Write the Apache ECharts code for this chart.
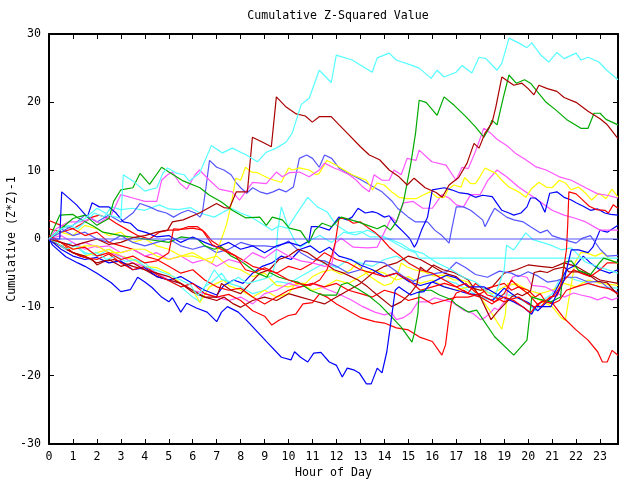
<!DOCTYPE html>
<html><head><meta charset="utf-8">
<script src="https://cdn.jsdelivr.net/npm/echarts@6/dist/echarts.min.js"></script>
<style>html,body{margin:0;padding:0;background:#fff}#c{width:640px;height:480px}</style>
</head><body><div id="c"></div>
<script>
// hour of day (x), cumulative (Z*Z)-1 (y)
const cyanTop = [[0,0],[0.5,1.5],[1,2],[1.5,3],[2,4.5],[2.5,3.5],[3,3],[3.1,9.4],[3.5,8.5],[4,7],[4.5,7.5],[4.75,9.6],[4.95,10.4],[5.35,9.6],[5.65,9.4],[5.85,8.5],[6.28,9.6],[6.78,13.7],[7.24,12.6],[7.65,13.3],[8.24,12.3],[8.7,11.3],[9.07,12.7],[9.49,13.3],[9.9,14.2],[10.15,15.5],[10.53,19.7],[10.86,20.6],[11.28,24.7],[11.78,22.9],[11.99,26.9],[12.65,26.2],[13.49,24.4],[13.7,26.5],[14.2,27.2],[14.49,26.2],[15.15,25.4],[15.45,25.0],[15.95,23.5],[16.2,24.7],[16.49,23.7],[16.99,24.4],[17.24,25.4],[17.65,24.3],[17.95,26.6],[18.24,26.4],[18.7,24.7],[18.9,25.7],[19.2,29.4],[19.6,28.7],[19.95,28.0],[20.15,28.7],[20.53,26.9],[20.86,25.9],[21.2,27.3],[21.5,26.4],[22,27.2],[22.2,26.2],[22.5,26.6],[22.95,25.9],[23.28,24.7],[23.75,23.3]];
const cyanMid = [[0,0],[0.4,1.2],[0.8,2],[1.2,1.5],[1.6,2.8],[1.9,3.8],[2.3,3.2],[2.6,4.7],[3.0,4.3],[3.5,4.5],[4.0,4.2],[4.6,5.0],[5.0,4.4],[5.4,4.3],[5.9,4.6],[6.3,3.8],[6.9,3.2],[7.3,4.0],[7.6,4.5],[8.0,3.8],[8.45,3.2],[8.9,2.2],[9.3,1.3],[9.6,1.9],[9.95,1.6],[10.3,3.5],[10.8,6.1],[11.2,4.7],[11.6,4.0],[12.0,2.0],[12.5,0.9],[13.0,1.1],[13.4,0.3],[14.0,0.3],[14.4,-0.5],[14.9,-1.5],[15.3,-2.0],[15.45,-2.8],[23.75,-2.8]];
const cyanLow = [[0,0],[0.3,-0.5],[0.7,-1.5],[1.1,-1],[1.5,-2.2],[2,-2],[2.4,-3],[2.8,-2.5],[3.2,-3.3],[3.6,-3],[4.0,-4],[4.5,-4.6],[5,-5.2],[5.5,-6],[5.9,-6.7],[6.2,-8.3],[6.5,-7],[6.9,-4.5],[7.2,-5.9],[7.6,-6.3],[7.9,-5.6],[8.3,-6.5],[8.6,-6.2],[9.0,-5.8],[9.3,-5.4],[9.45,-3.5],[9.55,1.3],[9.7,4.7],[10.0,1.5],[10.3,-0.5],[10.5,-1.2],[10.9,-0.2],[11.3,0.5],[11.8,-0.5],[12.3,1.0],[12.8,0.6],[13.3,1.3],[13.8,0.5],[14.3,-0.1],[14.7,-0.7],[15.1,-1.6],[15.6,-2.1],[16.2,-3.5],[16.8,-4.5],[17.3,-5.6],[17.8,-6.3],[18.3,-7.7],[18.6,-8.5],[19.0,-4.5],[19.1,-0.9],[19.4,-1.6],[19.9,0.9],[20.2,-0.1],[20.95,-0.9],[21.4,-1.6],[21.8,-1.3],[22.0,-2],[22.4,-3.4],[22.95,-4.1],[23.75,-5]];
const cyanDeep = [[0,0],[0.5,-1],[1,-0.5],[1.5,-2],[2,-2.5],[2.5,-1.5],[3,-2.5],[3.5,-3],[4,-3.5],[4.5,-5],[5,-6],[5.5,-7],[6,-8.5],[6.3,-9.2],[6.5,-7],[6.8,-6.3],[7.2,-5],[7.5,-6.5],[8,-7],[8.5,-8],[9,-7.5],[9.5,-6.2],[10,-6.5],[10.5,-5.5],[11,-4.5],[11.5,-3.5],[12,-4.2],[12.5,-3],[13,-3.5],[13.5,-4],[14,-3],[14.5,-2.5],[15,-3.5],[15.5,-4.5],[16,-5],[16.5,-6],[17,-6.5],[17.5,-7.5],[18,-8.5],[18.5,-9],[19,-8],[19.5,-8.5],[20,-9.5],[20.3,-10.5],[20.6,-9],[21,-8],[21.3,-6],[21.6,-5.5],[22,-6],[22.5,-6.5],[23,-7],[23.75,-7.2]];
const darkRedTop = [[0,0],[0.5,-0.5],[1,-1],[1.5,-0.5],[2,0],[2.5,-0.8],[3,-0.5],[3.5,0.2],[4,0.5],[4.5,1],[4.95,1.3],[5.15,2.5],[5.6,2.8],[6.28,3.8],[6.99,5.2],[7.3,4.6],[7.53,4.5],[7.82,6.9],[8.28,6.9],[8.49,14.9],[8.9,14.2],[9.28,13.5],[9.49,20.8],[9.9,19.3],[10.32,18.3],[10.7,18.0],[10.99,17.1],[11.28,17.9],[11.78,17.9],[12.11,16.7],[12.53,15.2],[13.0,13.5],[13.37,12.3],[13.8,11.6],[14.2,10.1],[14.61,9.1],[14.95,7.9],[15.24,8.9],[15.7,7.5],[16.16,6.8],[16.41,6.1],[16.7,7.9],[17.1,9.0],[17.45,11.1],[17.74,14.0],[17.95,13.3],[18.2,15.5],[18.49,17.0],[18.65,19.3],[18.9,23.7],[19.4,22.5],[19.74,22.8],[20.0,22.0],[20.24,21.1],[20.45,22.5],[20.8,22.0],[21.2,21.6],[21.5,20.7],[22,20.0],[22.5,18.7],[23.0,17.6],[23.28,16.8],[23.75,14.7]];
const darkRedMid = [[0,0],[0.5,-1],[1,-2],[1.5,-2.5],[2,-3.5],[2.5,-3],[3,-4],[3.5,-3.5],[4,-4.5],[4.5,-5],[5,-5.5],[5.5,-6.5],[6,-7.5],[6.5,-8.5],[7,-8.5],[7.2,-6.5],[7.6,-7.5],[8,-8],[8.4,-6.5],[8.8,-5],[9.2,-4.5],[9.6,-3],[10,-2.5],[10.4,-1.5],[10.8,-2],[11.2,-3],[11.5,-3.5],[11.9,-4.5],[12.3,-5],[12.9,-6],[13.3,-7],[13.7,-8.2],[14.3,-9.9],[14.7,-9.2],[15.1,-7.9],[15.35,-6.7],[15.5,-4.1],[15.75,-4.8],[16.05,-3.8],[16.45,-4.5],[16.9,-4.9],[17.3,-5.6],[17.5,-6],[18.0,-8.5],[18.45,-11.8],[18.7,-10.7],[19.0,-9.6],[19.3,-8.5],[19.55,-8.0],[19.75,-8.3],[20.1,-7.6],[20.25,-4.9],[20.5,-4.7],[20.8,-4.9],[21.1,-4.4],[21.5,-4.1],[21.7,-4.8],[22.2,-4.8],[22.6,-5.4],[22.9,-6.2],[23.3,-6.4],[23.75,-8.2]];
const darkRedLow = [[0,0],[0.7,-1.5],[1.3,-2.5],[1.8,-3],[2.0,-3.8],[2.3,-3.3],[2.7,-3],[3.1,-3.5],[3.5,-4],[4,-4.5],[4.5,-5.5],[5,-6],[5.5,-6.5],[6,-7.8],[6.5,-8.5],[7.0,-9],[7.3,-8.5],[7.7,-9.5],[8,-10],[8.5,-9],[9,-8.5],[9.5,-9],[10,-8],[10.5,-8.5],[11,-9],[11.5,-9.5],[12,-8.5],[12.5,-7.5],[13,-6.5],[13.5,-5],[14,-4],[14.5,-3.5],[15,-2.5],[15.5,-3],[16,-4],[16.5,-5],[17,-5.5],[17.5,-7],[18,-7.5],[18.5,-7],[19,-5],[19.5,-4.5],[20,-3.8],[20.5,-4.0],[21,-4.2],[21.5,-3.5],[22,-4],[22.5,-5],[23,-6],[23.75,-6.5]];
const greenTop = [[0,0],[0.5,1.5],[1,3],[1.5,3.5],[2,2],[2.5,3],[2.7,5.5],[3,7.2],[3.5,7.5],[3.8,9.6],[4.2,8],[4.7,10.5],[5.1,9.6],[5.6,8.5],[6.3,7.5],[6.7,6.4],[7.2,5.4],[7.65,4.2],[8.2,3.1],[8.8,3.2],[9.07,2.0],[9.32,3.2],[9.74,2.8],[10.03,1.6],[10.5,1.2],[10.85,-0.6],[11.1,1.3],[11.4,2.3],[11.8,1.8],[12.2,3.2],[12.6,2.8],[12.9,2.5],[13.3,2.0],[13.7,1.5],[14.0,2.0],[14.25,1.3],[14.5,2.5],[14.8,5.5],[15.1,11.0],[15.3,15.5],[15.45,20.3],[15.74,20.0],[16.2,18.1],[16.49,20.8],[16.9,19.6],[17.4,17.9],[17.8,16.4],[18.15,14.9],[18.37,16.2],[18.49,17.4],[18.7,16.7],[18.95,20.5],[19.2,24.0],[19.5,22.8],[19.85,23.3],[20.1,22.8],[20.4,21.5],[20.75,20.0],[21.15,18.9],[21.6,17.5],[22.2,16.2],[22.5,16.2],[22.75,18.4],[23.0,18.4],[23.25,17.5],[23.75,16.7]];
const greenLow = [[0,0],[0.45,3.5],[1,3.6],[1.2,3.1],[1.9,1.8],[2.25,1.0],[3,0.5],[4,0],[5,-0.5],[5.5,0.3],[6.2,0],[6.5,-1],[6.9,-1.5],[7.2,-1.2],[7.6,-2.5],[8.0,-3.2],[8.3,-4],[8.7,-5],[9.1,-5.6],[9.2,-4.9],[9.6,-5.6],[10.0,-6.0],[10.4,-6.3],[10.9,-7.5],[11.4,-8.2],[12.0,-8.2],[12.2,-6.7],[12.45,-6.4],[12.85,-7.2],[13.3,-8.2],[13.8,-9.6],[14.3,-11.4],[14.7,-12.9],[15.15,-15.1],[15.25,-13.8],[15.4,-10.8],[15.45,-7.7],[15.65,-7.5],[15.95,-7.5],[16.3,-8.2],[16.8,-8.9],[17.0,-9.6],[17.5,-10.7],[17.85,-10.4],[18.6,-14.3],[19.4,-17.0],[19.95,-14.8],[20.15,-8.5],[20.45,-8.8],[20.95,-9.2],[21.35,-8.5],[21.5,-3.4],[21.8,-3.2],[22.1,-4.6],[22.6,-5.2],[23.0,-3.4],[23.15,-2.8],[23.75,-3.5]];
const magentaTop = [[0,0],[0.3,1.5],[0.8,2.5],[1.3,2.5],[1.8,3],[2.1,2.3],[2.6,3.5],[3.0,6.5],[3.5,6],[4.0,5.5],[4.5,5.5],[4.7,8.6],[4.95,9.4],[5.15,9.8],[5.45,8.2],[5.75,7.3],[6.1,9.4],[6.28,10.1],[6.7,8.6],[7.1,7.3],[7.65,6.9],[7.95,5.7],[8.5,8.3],[9.07,8.1],[9.49,9.8],[9.74,9.1],[10.03,9.7],[10.45,9.8],[10.86,9.1],[11.28,10.1],[11.5,11.1],[11.9,10.4],[12.11,10.1],[12.53,9.4],[12.83,8.6],[13.1,7.6],[13.37,6.9],[13.57,9.4],[13.9,8.6],[14.2,8.6],[14.4,10.1],[14.7,9.4],[14.95,11.8],[15.32,11.5],[15.45,13.0],[15.98,11.3],[16.57,10.8],[16.99,8.6],[17.24,10.5],[17.5,10.3],[17.82,13],[18.15,16.2],[18.4,15.6],[18.7,14.6],[19.1,13.7],[19.45,12.6],[19.9,11.6],[20.3,10.6],[20.75,10.1],[21.3,9.1],[21.8,8.6],[22.4,7.5],[22.9,6.6],[23.3,6.4],[23.75,6.0]];
const magentaMid = [[0,0],[0.5,-0.5],[1,-1],[1.5,-0.5],[2,-1.2],[2.5,-1],[3,-2],[3.5,-1.5],[4,-2.5],[4.5,-2],[5,-3],[5.5,-2.5],[6,-3.5],[6.5,-3],[7,-4],[7.5,-3],[8,-3.5],[8.5,-2],[9,-2.8],[9.5,-1.5],[10,-2.5],[10.5,-3.2],[11,-3.5],[11.5,-4],[11.8,-3.8],[11.95,-0.6],[12.2,0.1],[12.7,-1.2],[13.3,-1.3],[13.7,-1.2],[13.9,0.3],[14.3,3.2],[14.5,2.5],[14.8,5.3],[15.2,5.5],[15.6,4.5],[16.0,4.5],[16.4,6.5],[16.7,6],[17.0,5],[17.3,4.7],[17.6,6.5],[18.0,6.5],[18.3,8.5],[18.7,10.1],[19.1,9.1],[19.6,7.6],[20.2,6.2],[20.6,5.2],[21.0,4.2],[21.5,3.5],[22.0,3.0],[22.4,2.5],[23.0,1.3],[23.75,1.3]];
const magentaLow = [[0,0],[0.5,0.5],[1,-0.5],[1.5,-1.5],[2,-1],[2.5,-2],[3,-2.5],[3.5,-3.5],[4,-4],[4.5,-5],[5,-6],[5.5,-6.5],[6,-7.5],[6.5,-8],[7,-8.5],[7.5,-9],[8,-8.5],[8.5,-9.5],[9,-8],[9.5,-7.5],[10,-6.5],[10.5,-7],[11,-6.5],[11.5,-7.2],[12.0,-7.9],[12.6,-8.9],[13.1,-9.9],[13.6,-10.7],[14.0,-11.1],[14.3,-10.8],[14.5,-11.8],[14.8,-11.5],[15.1,-10.8],[15.4,-9.2],[15.8,-9.2],[16.1,-8.6],[16.4,-8.9],[16.8,-9.2],[17.3,-10.4],[17.7,-10.9],[18.0,-11.8],[18.2,-11.5],[18.45,-10.7],[18.6,-10.1],[18.75,-10.4],[19.0,-9.2],[19.2,-7.0],[19.35,-5.6],[19.55,-5.3],[19.95,-5.6],[20.15,-6.8],[20.7,-7.0],[21.1,-7.7],[21.5,-8.5],[21.9,-7.9],[22.2,-8.2],[22.6,-8.5],[22.9,-8.9],[23.2,-8.5],[23.5,-8.9],[23.75,-8.6]];
const yellowTop = [[0,0],[0.5,-0.5],[1,-1.5],[1.5,-1],[2,-1],[2.5,-2],[3,-2],[3.5,-1.5],[4,-1.5],[4.5,-2.5],[5,-3],[5.5,-2.5],[6,-2.5],[6.5,-3],[6.8,-3.5],[7.0,-2],[7.2,0],[7.4,2],[7.6,5],[7.8,8.9],[8.0,8.6],[8.2,10.5],[8.45,9.8],[8.7,9.7],[9.1,9.0],[9.4,8.6],[9.7,8.3],[10.0,10.4],[10.15,10.1],[10.45,10.4],[10.86,10.1],[11.15,9.4],[11.28,9.6],[11.6,11.5],[11.99,10.8],[12.65,9.4],[13.25,8.6],[13.5,7.2],[13.7,8.2],[14.0,7.9],[14.3,6.9],[14.61,6.1],[14.95,5.9],[15.32,5.9],[15.6,6.4],[15.9,6.9],[16.2,6.1],[16.5,6.1],[16.65,7.2],[16.9,7.9],[17.2,7.6],[17.35,9.0],[17.6,8.1],[17.8,8.1],[17.95,8.9],[18.2,10.4],[18.65,9.6],[18.9,8.6],[19.2,7.6],[19.6,6.9],[19.9,6.1],[20.15,7.4],[20.45,8.3],[20.75,7.6],[21.0,7.5],[21.3,8.6],[21.55,8.2],[21.8,7.2],[22.1,7.6],[22.4,6.7],[22.65,5.7],[22.95,6.7],[23.25,5.9],[23.5,7.3],[23.75,6.1]];
const yellowLow = [[0,0],[0.5,-1],[1,-2],[1.5,-2.5],[2,-2],[2.5,-1.5],[3,-2.5],[3.5,-3],[4,-4],[4.5,-4.2],[5,-5],[5.5,-6.5],[6,-7.5],[6.3,-9.3],[6.7,-7],[7,-6.5],[7.3,-6],[7.5,-6.8],[8,-7.5],[8.5,-8.5],[9,-7.5],[9.5,-8.5],[10,-8],[10.3,-6.5],[10.7,-6.5],[11,-5.5],[11.4,-4.8],[11.8,-4.5],[12.2,-5.2],[12.6,-4.5],[12.85,-3.5],[13.1,-4.5],[13.4,-5.5],[13.7,-6.2],[14.0,-6.8],[14.3,-6.5],[14.55,-5.2],[14.7,-3.5],[14.95,-4.1],[15.25,-4.5],[15.65,-4.8],[16.05,-5.4],[16.5,-5.3],[16.9,-6.0],[17.2,-6.0],[17.5,-6.3],[18.0,-8.5],[18.5,-11],[18.9,-13.2],[19.05,-11],[19.15,-6.5],[19.45,-6.7],[19.75,-7.3],[20.1,-8.3],[20.4,-8.8],[21.0,-9.9],[21.4,-11.6],[21.55,-11.9],[21.75,-7.7],[21.95,-3.5],[22.2,-2.0],[22.4,-2.0],[22.8,-2.5],[23.1,-2.0],[23.5,-3.2],[23.75,-3.5]];
const yellowEarly = [[0,0],[0.5,1],[1,0.5],[1.5,2],[2,1.5],[2.5,0.5],[3,1],[3.5,-0.5],[4,0],[4.5,-1],[5,-1.5],[5.5,-2.5],[6,-2],[6.5,-3],[7,-2.5],[7.5,-4],[8,-4.5],[8.5,-5.5],[9,-5],[9.5,-6.8],[10,-7],[10.5,-6.5],[11,-7.5],[11.5,-7],[12,-6],[12.5,-6.5],[13,-5.5],[13.5,-4.5],[14,-5],[14.5,-6],[15,-5.5],[15.5,-6.5],[16,-6],[16.5,-7],[17,-7.5],[17.5,-7],[18,-7.5],[18.5,-8],[19,-7],[19.5,-6.5],[20,-7.5],[20.5,-8],[21,-7.5],[21.5,-6.5],[22,-7],[22.5,-6],[23,-6.5],[23.75,-6.8]];
const blueSpike = [[0,0],[0.45,0],[0.53,6.9],[1.15,5.0],[1.6,3.2],[1.8,5.3],[2.1,4.7],[2.5,4.7],[2.8,3.8],[3.1,2.5],[3.4,2.3],[3.7,1.3],[4.1,0.9],[4.5,0.3],[5,0.5],[5.5,-0.5],[6,0.3],[6.5,-0.5],[7,-1.2],[7.5,-0.5],[8,-1.5],[8.5,-1],[9,-2],[9.5,-1],[10,-0.5],[10.5,-1],[10.85,-0.3],[10.95,1.8],[11.28,1.8],[11.7,1.3],[12.1,3.2],[12.45,2.8],[12.65,3.2],[12.9,4.5],[13.2,3.8],[13.5,4.0],[13.7,3.8],[14.0,3.2],[14.2,3.4],[14.45,2.2],[14.8,1.0],[15.05,0.1],[15.25,-1.2],[15.35,-0.6],[15.55,1.3],[15.8,3.2],[16.0,7.2],[16.5,7.5],[16.8,7.2],[17.1,6.8],[17.5,6.6],[17.8,6.1],[18.1,6.4],[18.5,6.2],[18.9,4.2],[19.2,3.8],[19.4,3.5],[19.7,3.8],[19.95,4.7],[20.1,6.0],[20.3,6.0],[20.5,5.4],[20.7,3.9],[20.9,6.7],[21.2,6.9],[21.5,6.1],[21.8,5.7],[22,5.3],[22.3,4.8],[22.6,4.2],[22.9,4.4],[23.2,3.8],[23.45,3.6],[23.75,3.5]];
const blueDeep = [[0,0],[0.15,-0.9],[0.7,-2.6],[1.2,-3.5],[1.5,-4],[2.0,-5],[2.6,-6.4],[3.0,-7.7],[3.4,-7.4],[3.7,-5.6],[4.0,-6.3],[4.3,-7.1],[4.7,-8.5],[5.0,-9.2],[5.15,-8.6],[5.5,-10.7],[5.75,-9.4],[6.15,-10.1],[6.6,-10.7],[7.0,-12.1],[7.2,-10.7],[7.45,-9.9],[7.9,-10.7],[8.3,-12.1],[8.7,-13.6],[9.1,-15.1],[9.7,-17.3],[10.1,-17.7],[10.25,-16.5],[10.5,-17.3],[10.8,-18.0],[11.05,-16.7],[11.35,-16.6],[11.7,-18.0],[12.0,-18.5],[12.24,-20.2],[12.45,-18.9],[12.75,-19.2],[12.95,-19.6],[13.25,-21.2],[13.45,-21.2],[13.7,-18.9],[13.9,-19.6],[14.1,-16.5],[14.3,-11.4],[14.45,-7.5],[14.6,-7.0],[14.8,-7.5],[15.1,-8.2],[15.4,-7.8],[15.65,-7.7],[15.95,-6.4],[16.3,-5.8],[16.6,-5.3],[17,-5.7],[17.5,-7],[18.15,-7.0],[18.6,-7.9],[19.0,-8.6],[19.4,-9.2],[19.8,-10.0],[20.15,-11],[20.3,-9.9],[20.95,-9.9],[21.2,-8.0],[21.5,-6],[21.8,-1.6],[22.1,-1.6],[22.5,-2],[22.7,-1.2],[23,1.3],[23.3,1.0],[23.75,2]];
const blueMid = [[0,0],[0.5,-1.5],[1,-2.5],[1.5,-3],[2,-2.7],[2.5,-3.5],[3,-3.2],[3.5,-4.5],[4,-4.2],[4.5,-5.5],[5,-6],[5.5,-5.5],[6,-6.5],[6.5,-7.5],[7,-8.2],[7.3,-6.8],[7.7,-6],[8.1,-6.5],[8.5,-5],[8.9,-4],[9.3,-3.5],[9.7,-2.5],[10.1,-3],[10.5,-1.5],[10.9,-1],[11.3,-2],[11.7,-1.2],[12.1,-2.5],[12.6,-3],[13,-3.8],[13.5,-4.5],[14,-5.5],[14.5,-5],[15,-6.2],[15.5,-6.8],[16,-6.3],[16.5,-7],[17,-7.5],[17.5,-8],[18,-8.2],[18.5,-9],[19,-7.2],[19.5,-8.5],[20,-9.3],[20.4,-10.5],[20.7,-9.5],[21,-8.5],[21.3,-6.5],[21.6,-4.5],[22,-3.8],[22.3,-2.5],[22.6,-3.5],[23,-4.5],[23.4,-5],[23.75,-4.5]];
const mblueTop = [[0,0],[0.5,1],[1,2],[1.5,3.5],[2,2.5],[2.5,3.5],[3,2.5],[3.5,3.8],[3.8,5.2],[4.2,4.7],[4.5,4.2],[4.9,3.8],[5.2,3.2],[5.5,3.8],[5.8,4.2],[6.1,3.8],[6.3,3.2],[6.4,3.8],[6.55,7.5],[6.7,11.5],[7.0,10.5],[7.3,10.1],[7.6,9.4],[7.8,8.3],[8.0,7.5],[8.25,6.7],[8.5,7.5],[8.8,6.9],[9.1,6.6],[9.35,6.9],[9.6,7.3],[9.9,6.9],[10.2,7.6],[10.45,11.8],[10.75,12.3],[11.0,11.8],[11.28,10.5],[11.5,12.3],[11.8,11.8],[12.1,10.4],[12.5,9.6],[12.85,9.0],[13.2,8.3],[13.6,7.5],[13.9,6.9],[14.3,5.6],[14.55,4.5],[15.0,3.2],[15.3,2.5],[15.8,2.5],[16.1,1.3],[16.4,0.5],[16.7,-0.6],[16.8,1.3],[17.0,4.7],[17.3,4.7],[17.6,4.2],[18.1,2.8],[18.2,1.8],[18.4,3.2],[18.6,4.5],[19.1,3.2],[19.4,2.8],[19.8,2.5],[20.1,1.8],[20.5,0.9],[20.8,1.3],[21.0,0.5],[21.5,-0.1],[22.0,-0.6],[22.25,0.1],[22.6,0.5],[23.0,-1.5],[23.3,-2.5],[23.75,-2.4]];
const mblueLow = [[0,0],[0.5,1.5],[1,0.5],[1.5,1],[2,0],[2.5,-0.5],[3,0.5],[3.5,-0.5],[4,-1],[4.5,-0.5],[5,0],[5.5,-1],[6,-1.5],[6.5,-1],[7,-2],[7.5,-1.5],[8,-0.5],[8.5,-1],[9,-1],[9.5,-1.2],[10,-0.3],[10.5,-2],[11,-3],[11.5,-3.2],[12,-4.0],[12.5,-5.0],[13,-4.5],[13.2,-3.2],[13.6,-3.3],[14.0,-3.5],[14.4,-4.5],[14.8,-5.5],[15.2,-6.2],[15.6,-5.5],[16.2,-5],[16.6,-4.8],[17.0,-3.4],[17.4,-4.2],[17.8,-5.2],[18.3,-5.6],[18.8,-4.7],[19.3,-5],[19.6,-5.5],[20.0,-4.8],[20.4,-5.4],[20.8,-6.3],[21.2,-6.1],[21.6,-5.6],[22.0,-5.6],[22.5,-6.3],[23.0,-6.2],[23.4,-7.3],[23.75,-7.8]];
const redLow = [[0,2.7],[0.5,2],[1,1.5],[1.5,0.5],[2,1],[2.5,-0.5],[3,-1],[3.5,-1.5],[4,-2.5],[4.5,-3],[5,-4],[5.5,-5],[6,-4.5],[6.5,-6],[7,-7],[7.5,-7.5],[8,-7.2],[8.5,-8.5],[9,-9.5],[9.5,-8.5],[10,-7.5],[10.5,-7],[11,-6.5],[11.5,-7],[12,-6.5],[12.5,-7.5],[13,-8],[13.5,-8.5],[14,-7.5],[14.5,-8],[15,-9],[15.5,-8.5],[16,-9.5],[16.5,-9],[17,-8.5],[17.5,-8.5],[18,-8],[18.5,-7],[19,-6.5],[19.3,-7.5],[19.6,-7],[20,-7.5],[20.3,-8.5],[20.5,-8],[20.7,-9],[21,-9.3],[21.5,-11.6],[22,-13.3],[22.5,-14.8],[22.9,-16.5],[23.1,-18],[23.3,-18],[23.5,-16.3],[23.75,-17]];
const redJump16 = [[0,0],[0.5,-0.5],[1,-2],[1.5,-2.7],[2,-3],[2.5,-2.2],[3,-3.5],[3.5,-4.5],[4,-4],[4.5,-5.2],[5,-6.1],[5.5,-7],[6,-6.5],[6.5,-8],[7,-8.5],[7.5,-8.1],[8,-9],[8.5,-10.5],[9,-11.3],[9.3,-12.6],[9.6,-11.9],[10,-11.2],[10.3,-11.0],[10.6,-9.5],[11.0,-9.3],[11.3,-8],[11.6,-8.5],[12,-9.5],[12.5,-10.5],[13,-11.5],[13.6,-12.1],[14,-12.3],[14.5,-13],[15,-13.3],[15.5,-14.4],[16,-15],[16.4,-17],[16.55,-15.5],[16.7,-11.3],[16.8,-9.2],[17.0,-7.9],[17.3,-7.5],[17.5,-7.9],[17.8,-6.5],[18,-7],[18.3,-8.2],[18.6,-8.5],[19,-9.2],[19.3,-8.8],[19.6,-8.5],[20,-9.5],[20.3,-10],[20.6,-9],[21,-9.5],[21.3,-9],[21.6,-7.5],[22,-7],[22.5,-6.5],[23,-7],[23.4,-7.3],[23.75,-8]];
const redMid = [[0,1.5],[0.5,1],[1,1.5],[1.5,2.5],[1.8,3.2],[2.1,3.5],[2.5,3.0],[2.8,2.3],[3.3,1.3],[3.7,0.5],[4.2,0.0],[4.6,1.0],[5.0,1.3],[5.4,1.3],[5.8,1.8],[6.2,1.8],[6.5,1.0],[6.8,-0.3],[7.2,-1.2],[7.6,-2.1],[8.0,-2.9],[8.5,-4],[9,-4.5],[9.5,-5],[10,-4],[10.5,-4.5],[11,-3.5],[11.5,-2],[12,-3],[12.5,-3.5],[13,-4.5],[13.5,-5],[14,-5.5],[14.5,-5],[15,-6],[15.5,-7.5],[16,-7],[16.5,-6.5],[17,-7],[17.5,-8],[18,-8.5],[18.5,-9.5],[19,-8],[19.3,-6],[19.6,-7],[20,-8],[20.5,-10],[20.9,-8.5],[21.2,-8.3],[21.5,-6],[21.9,-4.5],[22.2,-5],[22.6,-5.5],[23,-4.5],[23.3,-3.5],[23.75,-3.5]];
const redJump21 = [[0,0.5],[0.5,-0.5],[1,-1.5],[1.5,-1.2],[2,-2.5],[2.5,-2],[3,-3],[3.5,-2.5],[4,-3.5],[4.5,-3.2],[5,-2],[5.2,1.5],[5.5,1.4],[6,1.6],[6.4,1.3],[6.8,-0.8],[7.3,-1.7],[7.8,-2.5],[8.2,-4.5],[8.6,-4.9],[9.0,-4.2],[9.5,-5],[10,-6],[10.4,-6.5],[10.9,-6.8],[11.3,-6],[11.6,-4.5],[11.8,-2.5],[11.95,-0.5],[12.1,3.0],[12.4,3.0],[12.7,2.3],[13.0,2.5],[13.3,1.7],[13.6,1.0],[13.9,0],[14.2,-1.2],[14.6,-2.3],[15,-3.5],[15.5,-4.5],[16,-5],[16.5,-6],[17,-7],[17.4,-6.5],[17.8,-7.8],[18.2,-8.5],[18.6,-9.2],[19,-8.5],[19.4,-9],[19.8,-10],[20.1,-10.8],[20.4,-9.5],[20.8,-8.9],[21.1,-8.2],[21.35,-6.9],[21.5,-4.0],[21.6,-1.5],[21.65,2.0],[21.7,6.9],[22,6.6],[22.25,5.8],[22.55,4.8],[22.85,4.3],[23.2,4.2],[23.35,3.8],[23.55,5.0],[23.75,4.5]];
const zeroLine = [[0,0],[23.75,0]];

const xTickLabels = ['0','1','2','3','4','5','6','7','8','9','10','11','12','13','14','15','16','17','18','19','20','21','22','23'];
const yTickLabels = ['-30','-20','-10','0','10','20','30'];

const lines = [
  ['cyanDeep', '#55ffff', cyanDeep],
  ['yellowEarly', '#ffff00', yellowEarly],
  ['yellowLow', '#ffff00', yellowLow],
  ['magentaLow', '#ff55ff', magentaLow],
  ['darkRedLow', '#aa0000', darkRedLow],
  ['blueMid', '#0000ff', blueMid],
  ['mblueLow', '#5555ff', mblueLow],
  ['redMid', '#ff0000', redMid],
  ['redLow', '#ff0000', redLow],
  ['redJump16', '#ff0000', redJump16],
  ['darkRedMid', '#aa0000', darkRedMid],
  ['cyanLow', '#55ffff', cyanLow],
  ['cyanMid', '#55ffff', cyanMid],
  ['greenLow', '#00aa00', greenLow],
  ['blueDeep', '#0000ff', blueDeep],
  ['magentaMid', '#ff55ff', magentaMid],
  ['mblueTop', '#5555ff', mblueTop],
  ['yellowTop', '#ffff00', yellowTop],
  ['magentaTop', '#ff55ff', magentaTop],
  ['blueSpike', '#0000ff', blueSpike],
  ['redJump21', '#ff0000', redJump21],
  ['greenTop', '#00aa00', greenTop],
  ['darkRedTop', '#aa0000', darkRedTop],
  ['cyanTop', '#55ffff', cyanTop],
  ['zero', '#5555ff', zeroLine]
];

const font = 'DejaVu Sans Mono';
const axisCommon = {
  axisLine: { show: true, onZero: false, lineStyle: { color: '#000', width: 2 } },
  axisTick: { show: true, inside: true, length: 5, lineStyle: { color: '#000', width: 1 } },
  splitLine: { show: false }
};

const chart = echarts.init(document.getElementById('c'), null, { renderer: 'canvas' });
chart.setOption({
  animation: false,
  backgroundColor: '#fff',
  title: {
    text: 'Cumulative Z-Squared Value', left: 333, top: 5, textAlign: 'center',
    textStyle: { fontFamily: font, fontSize: 11.6, fontWeight: 'normal', color: '#000' }
  },
  grid: { left: 49, right: 22, top: 34, bottom: 36, containLabel: false, outerBoundsMode: 'none' },
  xAxis: [
    Object.assign({
      type: 'value', min: 0, max: 23.75, interval: 1, position: 'bottom',
      name: 'Hour of Day', nameLocation: 'middle', nameGap: 23, nameMoveOverlap: false,
      nameTextStyle: { fontFamily: font, fontSize: 11.6, color: '#000' },
      axisLabel: { show: true, margin: 7, showMaxLabel: false, fontFamily: font, fontSize: 11.6, color: '#000',
        formatter: v => (Number.isInteger(v) ? xTickLabels[v] : '') }
    }, axisCommon),
    Object.assign({
      type: 'value', min: 0, max: 23.75, interval: 1, position: 'top',
      axisLabel: { show: false }
    }, axisCommon)
  ],
  yAxis: [
    Object.assign({
      type: 'value', min: -30, max: 30, interval: 10, position: 'left',
      name: 'Cumulative (Z*Z)-1', nameLocation: 'middle', nameGap: 31, nameRotate: 90, nameMoveOverlap: false,
      nameTextStyle: { fontFamily: font, fontSize: 11.6, color: '#000' },
      axisLabel: { show: true, margin: 8, fontFamily: font, fontSize: 11.6, color: '#000',
        formatter: v => yTickLabels[Math.round((v + 30) / 10)] }
    }, axisCommon),
    Object.assign({
      type: 'value', min: -30, max: 30, interval: 10, position: 'right',
      axisLabel: { show: false }
    }, axisCommon)
  ],
  series: lines.map(([name, color, data]) => ({
    name, type: 'line', data, xAxisIndex: 0, yAxisIndex: 0,
    showSymbol: false, symbol: 'none', silent: true,
    lineStyle: { color, width: 1.2 }, z: 2
  }))
});
</script>
</body></html>
